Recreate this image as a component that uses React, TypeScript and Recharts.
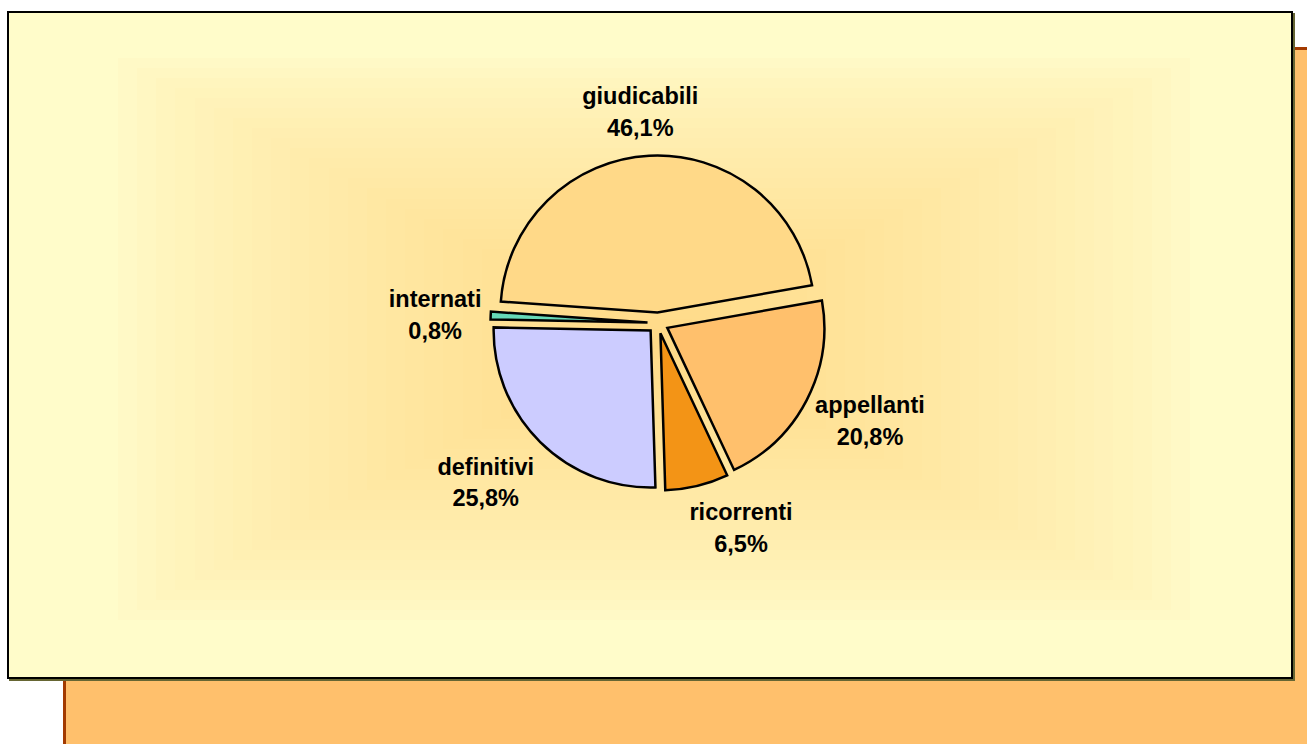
import { PieChart, Pie, Cell } from 'recharts'

const categories = ['giudicabili', 'appellanti', 'ricorrenti', 'definitivi', 'internati']
const shares = [46.1, 20.8, 6.5, 25.8, 0.8]
const shareLabels = ['46,1%', '20,8%', '6,5%', '25,8%', '0,8%']
const COLORS = ['#FFD988', '#FFC06C', '#F39416', '#CCCCFF', '#66D9B8']

// layout (page coords minus the panel's content origin at 9,13)
const W = 1282
const H = 664
const CX = 644
const CY = 305
const RADIUS = 157
const START = 176
const EXPLODE = 10.5
const LABEL_R = 172
// hand placement of the data labels, like Excel left them
const labelNudge = [
  [0, 7],
  [7, 6],
  [33, 4],
  [-1, 14],
  [13, 7],
]

const data = categories.map((name, i) => ({ name, value: shares[i] }))
const total = shares.reduce((a, b) => a + b, 0)
// mid angle of each slice, used to push the slice (and its label) outward
const mids = shares.map((v, i) => {
  const before = shares.slice(0, i).reduce((a, b) => a + b, 0)
  return START - (360 * (before + v / 2)) / total
})

function sliceLabel(i: number) {
  return (p: any) => {
    if (p.index !== i) return null
    const a = (mids[i] * Math.PI) / 180
    const dx = Math.cos(a)
    const dy = -Math.sin(a)
    const halfW = categories[i].length * 5.4
    const x = CX + (EXPLODE + LABEL_R + halfW) * dx + labelNudge[i][0]
    const y = CY + (EXPLODE + LABEL_R) * dy + 30 * dy + labelNudge[i][1] - 1.5
    return (
      <text
        x={x}
        y={y}
        textAnchor="middle"
        fontFamily="'Liberation Sans', Arial, sans-serif"
        fontWeight="bold"
        fontSize={23.5}
        fill="#000"
      >
        <tspan x={x} dy={-7}>{categories[i]}</tspan>
        <tspan x={x} dy={31.5}>{shareLabels[i]}</tspan>
      </text>
    )
  }
}

// stepped rectangular "from centre" fill behind the pie
function hex(a: number[]) {
  return '#' + a.map((v) => Math.round(v).toString(16).padStart(2, '0')).join('')
}
const OUTER = [255, 249, 198]
const INNER = [255, 217, 134]
const STEPS = 28
function GradientBox() {
  const gx = 109, gy = 45, gw = 1072, gh = 562
  const rects = []
  for (let k = 0; k < STEPS; k++) {
    const t = k / STEPS
    const w = gw * (1 - t)
    const h = gh * (1 - t)
    const c = OUTER.map((o, j) => o + (INNER[j] - o) * Math.pow(t, 0.8))
    rects.push(
      <div
        key={k}
        style={{
          position: 'absolute',
          left: gx + (gw - w) / 2,
          top: gy + (gh - h) / 2,
          width: w,
          height: h,
          background: hex(c),
        }}
      />
    )
  }
  return <>{rects}</>
}

export default function App() {
  return (
    <div style={{ position: 'absolute', left: 0, top: 0, width: 1307, height: 744, overflow: 'hidden', background: '#fff' }}>
      <div
        style={{
          position: 'absolute',
          left: 63,
          top: 47,
          width: 1244,
          height: 697,
          background: '#FFC06C',
          borderLeft: '3px solid #A33A00',
          borderTop: '3px solid #A33A00',
        }}
      />
      <div
        style={{
          position: 'absolute',
          left: 7,
          top: 11,
          width: W,
          height: H,
          background: '#FFFCCA',
          border: '2px solid #000',
          boxShadow: '2px 2px 0 #666633',
        }}
      >
        <GradientBox />
        <div style={{ position: 'absolute', left: 0, top: 0 }}>
          <PieChart width={W} height={H}>
            {categories.map((cat, i) => {
              const a = (mids[i] * Math.PI) / 180
              const cx = CX + EXPLODE * Math.cos(a)
              const cy = CY - EXPLODE * Math.sin(a)
              return (
                <Pie
                  key={cat}
                  data={data}
                  dataKey="value"
                  nameKey="name"
                  cx={cx}
                  cy={cy}
                  outerRadius={RADIUS}
                  startAngle={START}
                  endAngle={START - 360}
                  isAnimationActive={false}
                  labelLine={false}
                  label={sliceLabel(i)}
                >
                  {data.map((d, j) => (
                    <Cell
                      key={d.name}
                      fill={j === i ? COLORS[j] : 'none'}
                      stroke={j === i ? '#000' : 'none'}
                      strokeWidth={2.5}
                    />
                  ))}
                </Pie>
              )
            })}
          </PieChart>
        </div>
      </div>
    </div>
  )
}
